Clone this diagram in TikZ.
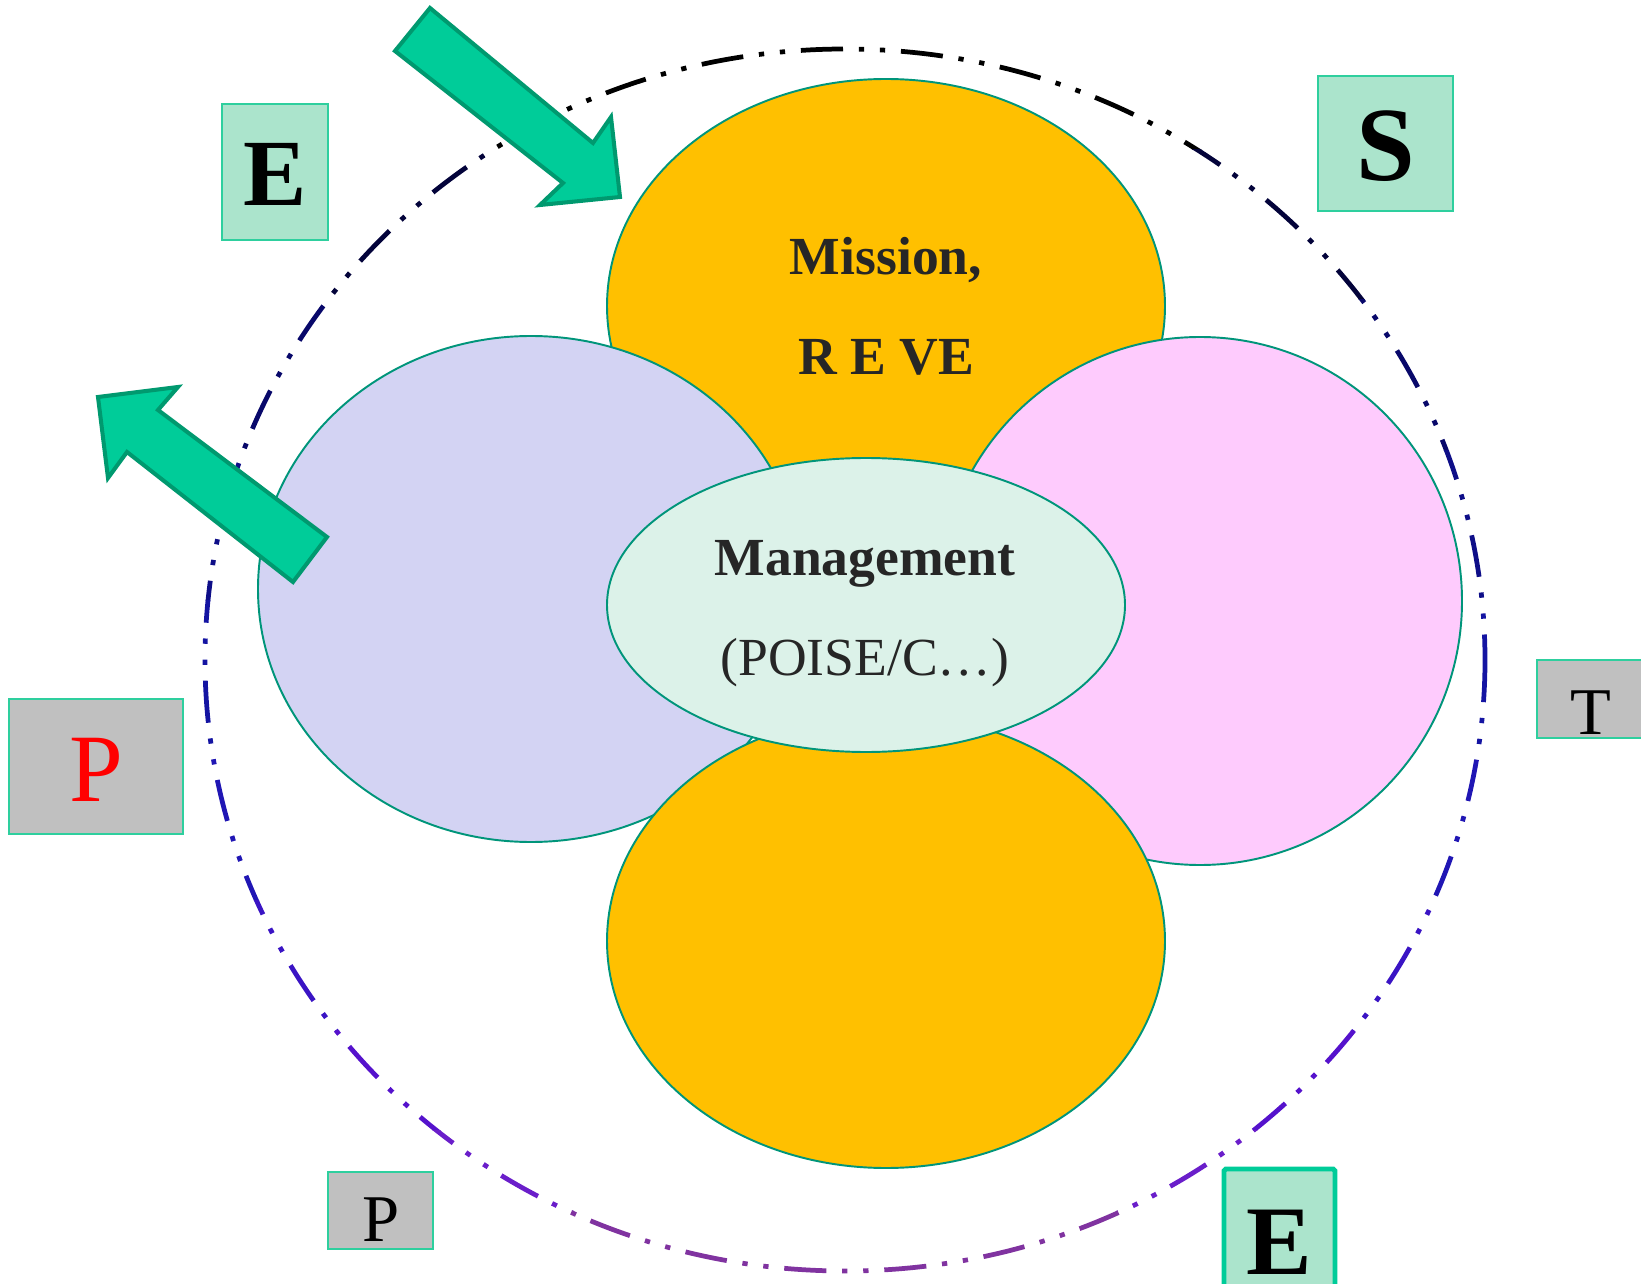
\documentclass[tikz,border=0pt]{standalone}
\usepackage{fontspec}
\setmainfont{Liberation Serif}

\definecolor{petalgold}{HTML}{FFC000}
\definecolor{petallilac}{HTML}{D3D3F3}
\definecolor{petalpink}{HTML}{FECBFD}
\definecolor{coremint}{HTML}{DCF2E9}
\definecolor{petaledge}{HTML}{00957A}
\definecolor{boxgreen}{HTML}{ABE4CC}
\definecolor{boxgrey}{HTML}{C0C0C0}
\definecolor{boxedge}{HTML}{2ECF9E}
\definecolor{arrowfill}{HTML}{00CC99}
\definecolor{arrowedge}{HTML}{00996F}
\definecolor{inktext}{HTML}{262626}
% ring colours, top to bottom
\definecolor{ringa}{HTML}{000000}
\definecolor{ringb}{HTML}{03033A}
\definecolor{ringc}{HTML}{08086A}
\definecolor{ringd}{HTML}{0E0E88}
\definecolor{ringe}{HTML}{1414A2}
\definecolor{ringf}{HTML}{2016B4}
\definecolor{ringg}{HTML}{3A14C4}
\definecolor{ringh}{HTML}{5512CC}
\definecolor{ringi}{HTML}{6A1ECA}
\definecolor{ringj}{HTML}{8033A0}

\tikzset{
  petal/.style={draw=petaledge, line width=1.1pt},
  ringline/.style={line width=2.7pt, dash pattern=on 24pt off 9pt on 3pt off 9pt on 3pt off 9pt},
  bigarrow/.style={fill=arrowfill, draw=arrowedge, line width=2.3pt, line join=miter},
  letterbox/.style={draw=boxedge, line width=1.2pt, fill=boxgreen, inner sep=0pt},
  greybox/.style={draw=boxedge, line width=1.2pt, fill=boxgrey, inner sep=0pt},
  bigword/.style={anchor=base, text=inktext, font=\fontsize{30.5}{36}\selectfont\bfseries},
}

\begin{document}
\begin{tikzpicture}[x=0.02cm, y=-0.02cm]
\useasboundingbox (0,0) rectangle (1641,1284);

% dash-dot-dot ring, coloured in horizontal bands
\foreach \ya/\yb/\col in {0/150/ringa, 150/300/ringb, 300/450/ringc, 450/600/ringd,
                          600/750/ringe, 750/900/ringf, 900/1030/ringg, 1030/1130/ringh,
                          1130/1210/ringi, 1210/1284/ringj}
{
  \begin{scope}
    \clip (0,\ya) rectangle (1641,\yb);
    \draw[ringline, draw=\col] (845,660) ellipse [x radius=640, y radius=611];
  \end{scope}
}

% petals
\filldraw[petal, fill=petalgold] (886,306) ellipse [x radius=279, y radius=227];
\filldraw[petal, fill=petallilac] (531,589) ellipse [x radius=273, y radius=253];
\filldraw[petal, fill=petalpink] (1200,601) ellipse [x radius=262, y radius=264];
\filldraw[petal, fill=petalgold] (886,941) ellipse [x radius=279, y radius=227];
\filldraw[petal, fill=coremint] (866,605) ellipse [x radius=259, y radius=147];

\node[bigword] (mission) at (886,275) {Mission,};
\node[bigword] (reve) at (886,375) {R E VE};
\node[bigword] (mgmt) at (865,575) {Management};
\node[bigword, font=\fontsize{30.5}{36}\selectfont] (poise) at (865,675) {(POISE/C…)};

% arrows
\draw[bigarrow] (430,8) -- (593,143) -- (611,117) -- (620,197) -- (540,205)
  -- (563,183) -- (395,51) -- cycle;
\draw[bigarrow] (327,537) -- (158,410) -- (178,387) -- (98,397) -- (108,478)
  -- (127,452) -- (293,582) -- cycle;

% letter boxes
\node[letterbox, minimum width=2.12cm, minimum height=2.72cm] (ebox) at (275,172) {};
\node[anchor=base, font=\fontsize{54}{60}\selectfont\bfseries] (eletter) at (275,206) {E};

\node[letterbox, minimum width=2.70cm, minimum height=2.70cm] (sbox) at (1385.5,143.5) {};
\node[anchor=base, font=\fontsize{60}{66}\selectfont\bfseries] (sletter) at (1386,181) {S};

\node[greybox, minimum width=2.46cm, minimum height=1.56cm] (tbox) at (1598.5,699) {};
\node[anchor=base, font=\fontsize{38}{42}\selectfont] (tletter) at (1591,734) {T};

\node[greybox, minimum width=3.48cm, minimum height=2.70cm] (pbox) at (96,766.5) {};
\node[anchor=base, text=red, font=\fontsize{55}{60}\selectfont] (pletter) at (96,801) {P};

\node[greybox, minimum width=2.10cm, minimum height=1.54cm] (psbox) at (380.5,1210.5) {};
\node[anchor=base, font=\fontsize{38}{42}\selectfont] (psletter) at (381,1241) {P};

\node[letterbox, draw=arrowfill, line width=2.8pt, rounded corners=1pt,
      minimum width=2.22cm, minimum height=2.82cm] (ebotbox) at (1279.5,1239.5) {};
\node[anchor=base, font=\fontsize{56}{62}\selectfont\bfseries] (ebotletter) at (1279,1274) {E};
\end{tikzpicture}
\end{document}
